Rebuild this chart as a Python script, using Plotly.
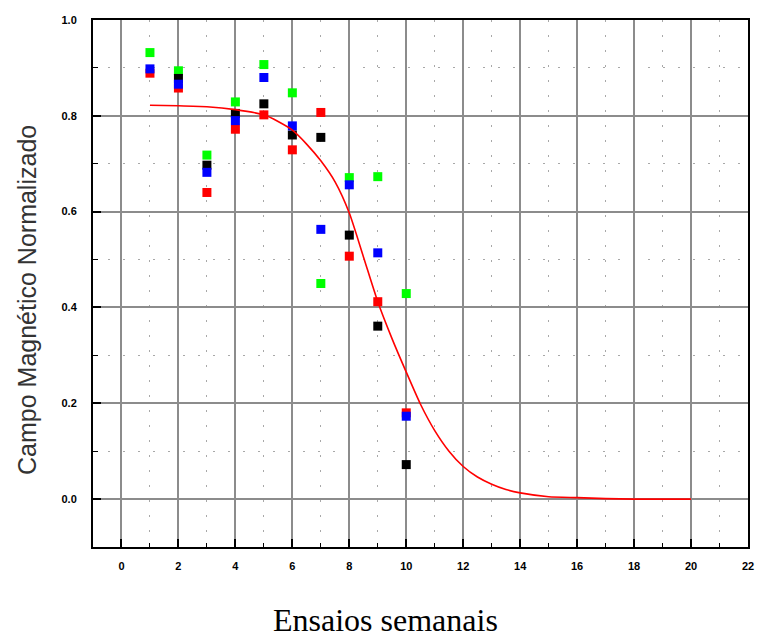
import plotly.graph_objects as go

# Weekly trials (x) and normalized magnetic field readings for four samples
ensaios = [1, 2, 3, 4, 5, 6, 7, 8, 9, 10]
campo_verde = [0.932, 0.894, 0.718, 0.829, 0.907, 0.848, 0.450, 0.671, 0.673, 0.429]
campo_vermelho = [0.889, 0.858, 0.640, 0.772, 0.802, 0.729, 0.807, 0.507, 0.412, 0.180]
campo_preto = [None, 0.878, 0.697, 0.805, 0.825, 0.760, 0.755, 0.551, 0.361, 0.072]
campo_azul = [0.898, 0.866, 0.682, 0.790, 0.880, 0.779, 0.563, 0.656, 0.514, 0.173]

# Fitted decay curve (sampled points)
ajuste_x = [1, 2, 3, 4, 5, 5.5, 6, 6.5, 7, 7.5, 8, 8.5, 9, 9.5, 10, 10.5,
            11, 11.5, 12, 12.5, 13, 13.5, 14, 15, 16, 17, 18, 19, 20]
ajuste_y = [0.822, 0.821, 0.819, 0.813, 0.802, 0.788, 0.770, 0.741, 0.706, 0.662,
            0.597, 0.505, 0.412, 0.335, 0.265, 0.198, 0.143, 0.100, 0.068, 0.046,
            0.031, 0.020, 0.013, 0.005, 0.003, 0.001, 0.0, 0.0, 0.0]

x_ticks = list(range(0, 23, 2))
y_ticks = [0.0, 0.2, 0.4, 0.6, 0.8, 1.0]
y_tick_text = ["0.0", "0.2", "0.4", "0.6", "0.8", "1.0"]

fig = go.Figure()

series = [
    (campo_verde, "#00ff00"),
    (campo_vermelho, "#ff0000"),
    (campo_preto, "#000000"),
    (campo_azul, "#0000ff"),
]
for valores, cor in series:
    fig.add_trace(go.Scatter(
        x=ensaios, y=valores, mode="markers",
        marker=dict(symbol="square", size=9, color=cor, line=dict(width=0)),
        showlegend=False,
    ))

fig.add_trace(go.Scatter(
    x=ajuste_x, y=ajuste_y, mode="lines",
    line=dict(color="#ff0000", width=1.6, shape="spline", smoothing=0.6),
    showlegend=False,
))

tick_font = dict(family="Liberation Sans", size=11, color="black", weight="bold")

fig.update_xaxes(
    range=[-1, 22], tickvals=x_ticks, ticktext=[str(v) for v in x_ticks],
    ticks="inside", ticklen=8, tickwidth=2, tickcolor="black",
    showline=True, linecolor="black", linewidth=2, mirror=True,
    showgrid=True, gridcolor="#8c8c8c", gridwidth=2, zeroline=False,
    minor=dict(tick0=0, dtick=1, ticks="inside", ticklen=4, tickwidth=1,
               tickcolor="black", showgrid=True, gridcolor="#a8a8a8",
               griddash="2px,13px", gridwidth=1),
    tickfont=tick_font, ticklabelstandoff=8, automargin=False,
)
fig.update_yaxes(
    range=[-0.1, 1.0], tickvals=y_ticks, ticktext=y_tick_text,
    ticks="inside", ticklen=8, tickwidth=2, tickcolor="black",
    showline=True, linecolor="black", linewidth=2, mirror=True,
    showgrid=True, gridcolor="#8c8c8c", gridwidth=2, zeroline=False,
    minor=dict(tick0=0, dtick=0.1, ticks="inside", ticklen=5, tickwidth=1,
               tickcolor="black", showgrid=True, gridcolor="#a8a8a8",
               griddash="2px,13px", gridwidth=1),
    tickfont=tick_font, ticklabelstandoff=12, automargin=False,
)

fig.add_annotation(
    text="Campo Magnético Normalizado", textangle=-90,
    xref="paper", yref="paper", x=-0.1008, y=0.4687,
    xanchor="center", yanchor="middle", showarrow=False,
    font=dict(family="Liberation Sans", size=25, color="#333333"),
)
fig.add_annotation(
    text="Ensaios semanais",
    xref="paper", yref="paper", x=0.447, y=-0.1385,
    xanchor="center", yanchor="middle", showarrow=False,
    font=dict(family="Liberation Serif", size=32, color="black"),
)

fig.update_layout(
    width=758, height=637,
    margin=dict(l=93, r=10, t=20, b=90),
    plot_bgcolor="white", paper_bgcolor="white",
)

fig.write_html("out.html")
